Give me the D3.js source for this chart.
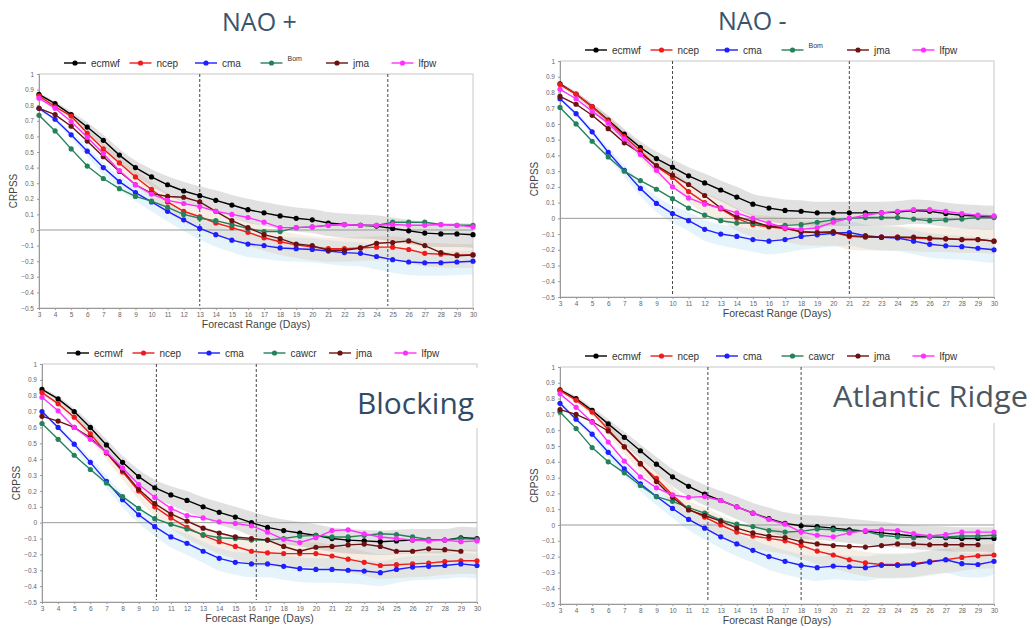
<!DOCTYPE html>
<meta charset="utf-8">
<style>
  body { margin: 0; background: #fff; }
  svg { display: block; }
  .tick text { fill: #666; font-family: "Liberation Sans", Arial, sans-serif; font-size: 6.5px; }
  .tick line { stroke: #999; }
  .domain { stroke: #999; }
  .legend text { font-family: "Liberation Sans", Arial, sans-serif; font-size: 10px; fill: #333; }
  .axis-title { font-family: "Liberation Sans", Arial, sans-serif; fill: #444; }
</style>
<svg width="1035" height="628"></svg>
<script src="https://cdn.jsdelivr.net/npm/d3@7"></script>
<script>

  // forecast days
  var days = d3.range(3, 31);
  var yTicks = [-0.5, -0.4, -0.3, -0.2, -0.1, 0, 0.1, 0.2, 0.3, 0.4, 0.5, 0.6, 0.7, 0.8, 0.9, 1];

  var models = ["ecmwf", "ncep", "cma", "bom", "jma", "lfpw"];
  var labelsTop = ["ecmwf", "ncep", "cma", "Bom", "jma", "lfpw"];
  var labelsBottom = ["ecmwf", "ncep", "cma", "cawcr", "jma", "lfpw"];
  var colors = ["#000000", "#ee1c1c", "#1e1eff", "#23825a", "#6a1212", "#ff30ff"];

  // spread of the shaded bands (grows with lead time)
  var bandSpread = [0.01, 0.015, 0.02, 0.03, 0.035, 0.04, 0.045, 0.05, 0.055, 0.06, 0.06, 0.065, 0.065, 0.07,
                    0.07, 0.07, 0.07, 0.07, 0.07, 0.07, 0.07, 0.07, 0.07, 0.07, 0.07, 0.07, 0.07, 0.07];

  // ---- NAO +
  var naoPlusEcmwf = [0.87, 0.81, 0.74, 0.66, 0.575, 0.48, 0.40, 0.34, 0.29, 0.25, 0.22, 0.19, 0.16, 0.13,
                      0.11, 0.09, 0.075, 0.065, 0.045, 0.035, 0.03, 0.025, 0.01, -0.005, -0.02, -0.025, -0.025, -0.03];
  var naoPlusNcep = [0.86, 0.79, 0.73, 0.62, 0.52, 0.43, 0.34, 0.26, 0.18, 0.12, 0.085, 0.045, 0.015, -0.015,
                     -0.05, -0.075, -0.095, -0.11, -0.12, -0.12, -0.115, -0.11, -0.11, -0.125, -0.15, -0.155, -0.16, -0.16];
  var naoPlusCma = [0.78, 0.71, 0.61, 0.505, 0.40, 0.31, 0.24, 0.18, 0.12, 0.065, 0.01, -0.03, -0.065, -0.09,
                    -0.10, -0.115, -0.12, -0.125, -0.135, -0.145, -0.15, -0.17, -0.19, -0.205, -0.21, -0.21, -0.205, -0.20];
  var naoPlusBom = [0.735, 0.635, 0.52, 0.41, 0.33, 0.265, 0.215, 0.185, 0.145, 0.10, 0.075, 0.06, 0.035, 0.01,
                    -0.01, -0.01, 0.015, 0.02, 0.03, 0.035, 0.03, 0.03, 0.05, 0.05, 0.05, 0.035, 0.03, 0.03];
  var naoPlusJma = [0.78, 0.74, 0.665, 0.57, 0.47, 0.375, 0.29, 0.235, 0.215, 0.21, 0.18, 0.12, 0.06, 0.015,
                    -0.03, -0.055, -0.09, -0.10, -0.13, -0.13, -0.115, -0.085, -0.08, -0.07, -0.10, -0.145, -0.165, -0.16];
  var naoPlusLfpw = [0.845, 0.78, 0.695, 0.595, 0.49, 0.38, 0.29, 0.23, 0.19, 0.17, 0.15, 0.12, 0.10, 0.08,
                     0.05, 0.015, 0.015, 0.02, 0.03, 0.035, 0.03, 0.03, 0.035, 0.03, 0.03, 0.035, 0.03, 0.02];

  // ---- NAO -
  var naoMinusEcmwf = [0.855, 0.79, 0.71, 0.625, 0.535, 0.45, 0.38, 0.325, 0.27, 0.225, 0.18, 0.135, 0.09, 0.065,
                       0.05, 0.045, 0.035, 0.035, 0.035, 0.035, 0.035, 0.04, 0.05, 0.045, 0.03, 0.02, 0.015, 0.01];
  var naoMinusNcep = [0.85, 0.79, 0.71, 0.62, 0.52, 0.43, 0.33, 0.26, 0.17, 0.10, 0.06, 0.0, -0.04, -0.055,
                      -0.065, -0.085, -0.09, -0.09, -0.115, -0.12, -0.12, -0.12, -0.125, -0.13, -0.13, -0.135, -0.135, -0.145];
  var naoMinusCma = [0.76, 0.665, 0.55, 0.42, 0.305, 0.19, 0.095, 0.03, -0.015, -0.07, -0.10, -0.115, -0.135, -0.145,
                     -0.135, -0.115, -0.105, -0.095, -0.09, -0.11, -0.12, -0.125, -0.145, -0.165, -0.175, -0.18, -0.19, -0.20];
  var naoMinusBom = [0.705, 0.60, 0.49, 0.39, 0.30, 0.24, 0.185, 0.125, 0.065, 0.02, -0.015, -0.03, -0.03, -0.05,
                     -0.045, -0.04, -0.025, -0.01, 0.0, 0.005, 0.005, 0.005, -0.005, -0.015, -0.01, -0.005, 0.005, 0.005];
  var naoMinusJma = [0.775, 0.725, 0.655, 0.57, 0.48, 0.415, 0.335, 0.275, 0.215, 0.145, 0.065, 0.01, -0.02, -0.05,
                     -0.06, -0.085, -0.09, -0.085, -0.11, -0.115, -0.12, -0.12, -0.12, -0.125, -0.13, -0.135, -0.135, -0.145];
  var naoMinusLfpw = [0.82, 0.76, 0.68, 0.605, 0.505, 0.405, 0.305, 0.20, 0.13, 0.09, 0.065, 0.035, 0.0, -0.03,
                      -0.06, -0.07, -0.06, -0.025, 0.0, 0.02, 0.035, 0.045, 0.055, 0.055, 0.045, 0.03, 0.02, 0.015];

  // ---- Blocking
  var blockEcmwf = [0.84, 0.78, 0.70, 0.60, 0.49, 0.38, 0.29, 0.22, 0.175, 0.14, 0.10, 0.065, 0.035, 0.0,
                    -0.03, -0.05, -0.065, -0.08, -0.10, -0.11, -0.115, -0.12, -0.115, -0.11, -0.11, -0.11, -0.095, -0.10];
  var blockNcep = [0.82, 0.75, 0.665, 0.56, 0.44, 0.32, 0.20, 0.10, 0.03, -0.03, -0.08, -0.12, -0.15, -0.18,
                   -0.19, -0.195, -0.195, -0.195, -0.21, -0.23, -0.25, -0.27, -0.265, -0.26, -0.255, -0.245, -0.24, -0.24];
  var blockCma = [0.70, 0.60, 0.495, 0.38, 0.26, 0.145, 0.05, -0.025, -0.09, -0.13, -0.18, -0.225, -0.25, -0.26,
                  -0.26, -0.275, -0.29, -0.295, -0.295, -0.30, -0.305, -0.315, -0.295, -0.28, -0.275, -0.27, -0.26, -0.27];
  var blockCawcr = [0.625, 0.525, 0.425, 0.335, 0.25, 0.165, 0.09, 0.025, -0.01, -0.04, -0.075, -0.095, -0.10, -0.11,
                    -0.11, -0.10, -0.085, -0.08, -0.09, -0.09, -0.08, -0.07, -0.075, -0.09, -0.105, -0.11, -0.10, -0.105];
  var blockJma = [0.67, 0.64, 0.60, 0.535, 0.44, 0.33, 0.21, 0.12, 0.055, 0.01, -0.035, -0.065, -0.09, -0.10,
                  -0.11, -0.15, -0.18, -0.155, -0.15, -0.14, -0.135, -0.15, -0.18, -0.18, -0.165, -0.17, -0.18, null];
  var blockLfpw = [0.79, 0.705, 0.60, 0.525, 0.445, 0.345, 0.24, 0.16, 0.09, 0.045, 0.03, 0.005, -0.005, -0.02,
                   -0.06, -0.105, -0.125, -0.095, -0.05, -0.045, -0.07, -0.09, -0.10, -0.11, -0.115, -0.11, -0.12, -0.115];

  // ---- Atlantic Ridge
  var ridgeEcmwf = [0.855, 0.80, 0.725, 0.64, 0.555, 0.47, 0.385, 0.305, 0.245, 0.195, 0.155, 0.115, 0.075, 0.04,
                    0.01, -0.005, -0.01, -0.02, -0.03, -0.04, -0.05, -0.06, -0.07, -0.075, -0.08, -0.085, -0.085, -0.085];
  var ridgeNcep = [0.85, 0.79, 0.715, 0.605, 0.495, 0.385, 0.295, 0.19, 0.10, 0.05, 0.0, -0.045, -0.07, -0.085,
                   -0.10, -0.13, -0.165, -0.19, -0.22, -0.24, -0.25, -0.25, -0.245, -0.23, -0.22, -0.205, -0.195, -0.19];
  var ridgeCma = [0.77, 0.67, 0.575, 0.46, 0.355, 0.26, 0.18, 0.105, 0.035, -0.02, -0.075, -0.12, -0.16, -0.20,
                  -0.23, -0.255, -0.27, -0.26, -0.265, -0.27, -0.255, -0.255, -0.25, -0.235, -0.22, -0.245, -0.25, -0.23];
  var ridgeCawcr = [0.715, 0.61, 0.49, 0.40, 0.33, 0.25, 0.18, 0.15, 0.11, 0.075, 0.03, 0.005, -0.01, -0.035,
                    -0.045, -0.04, -0.025, -0.03, -0.04, -0.04, -0.065, -0.075, -0.08, -0.075, -0.075, -0.07, -0.07, -0.065];
  var ridgeJma = [0.73, 0.70, 0.655, 0.595, 0.495, 0.39, 0.275, 0.175, 0.095, 0.06, 0.025, -0.02, -0.05, -0.07,
                  -0.08, -0.105, -0.12, -0.13, -0.135, -0.14, -0.13, -0.12, -0.12, -0.125, -0.125, -0.125, -0.125, null];
  var ridgeLfpw = [0.83, 0.745, 0.65, 0.525, 0.405, 0.305, 0.235, 0.19, 0.175, 0.18, 0.155, 0.115, 0.075, 0.035,
                   0.005, -0.045, -0.065, -0.075, -0.05, -0.035, -0.03, -0.035, -0.055, -0.07, -0.06, -0.045, -0.045, -0.045];

  // dashed marker days per panel
  var naoPlusMarks = [13, 24.7];
  var naoMinusMarks = [10, 21];
  var blockMarks = [10.1, 16.3];
  var ridgeMarks = [12.2, 18];

  var panels = [
    { box: [39, 473, 74, 308], labels: labelsTop, marks: naoPlusMarks,
      series: [naoPlusEcmwf, naoPlusNcep, naoPlusCma, naoPlusBom, naoPlusJma, naoPlusLfpw],
      title: "NAO +", tx: 222, ty: 31, tsize: 25, tcolor: "#3b536c" },
    { box: [560, 994, 61, 297], labels: labelsTop, marks: naoMinusMarks,
      series: [naoMinusEcmwf, naoMinusNcep, naoMinusCma, naoMinusBom, naoMinusJma, naoMinusLfpw],
      title: "NAO -", tx: 718, ty: 30, tsize: 25, tcolor: "#3b536c" },
    { box: [42, 477, 364, 602], labels: labelsBottom, marks: blockMarks,
      series: [blockEcmwf, blockNcep, blockCma, blockCawcr, blockJma, blockLfpw],
      title: "Blocking", tx: 357, ty: 414, tsize: 30, tcolor: "#2f4b68", tlen: 117, white: [352, 368, 130, 60] },
    { box: [560, 994, 367, 604], labels: labelsBottom, marks: ridgeMarks,
      series: [ridgeEcmwf, ridgeNcep, ridgeCma, ridgeCawcr, ridgeJma, ridgeLfpw],
      title: "Atlantic Ridge", tx: 833, ty: 407, tsize: 29, tcolor: "#4c5660", tlen: 195, white: [828, 370, 207, 53] }
  ];

  var svg = d3.select("svg");

  panels.forEach(function (p) {
    var x = d3.scaleLinear().domain([3, 30]).range([p.box[0], p.box[1]]);
    var y = d3.scaleLinear().domain([-0.5, 1]).range([p.box[3], p.box[2]]);
    var g = svg.append("g");

    // shaded spread bands: gray around ecmwf, beige around ncep, blue around cma
    var bands = [[2, "rgba(160,215,240,0.28)"], [1, "rgba(215,175,130,0.22)"], [0, "rgba(130,130,130,0.24)"]];
    bands.forEach(function (b) {
      var s = p.series[b[0]];
      var area = d3.area()
            .curve(d3.curveMonotoneX)
            .x(function (d, i) { return x(days[i]); })
            .y0(function (d, i) { return y(d - bandSpread[i] * 1.2); })
            .y1(function (d, i) { return y(d + bandSpread[i]); });
      g.append("path").datum(s).attr("d", area).attr("fill", b[1]);
    });

    // frame
    g.append("rect")
          .attr("x", p.box[0]).attr("y", p.box[2])
          .attr("width", p.box[1] - p.box[0]).attr("height", p.box[3] - p.box[2])
          .attr("fill", "none").attr("stroke", "#c8c8c8");

    // zero line
    g.append("line")
          .attr("x1", p.box[0]).attr("x2", p.box[1])
          .attr("y1", y(0)).attr("y2", y(0))
          .attr("stroke", "#999").attr("stroke-width", 1);

    // axes
    g.append("g")
          .attr("transform", "translate(0," + p.box[3] + ")")
          .call(d3.axisBottom(x).tickValues(days).tickSize(2).tickPadding(2).tickFormat(d3.format("d")));
    g.append("g")
          .attr("transform", "translate(" + p.box[0] + ",0)")
          .call(d3.axisLeft(y).tickValues(yTicks).tickSize(2).tickPadding(3)
                .tickFormat(function (d) { return d3.format("~g")(+d.toFixed(1)); }));

    // dashed vertical lines
    g.selectAll(".mark").data(p.marks).enter().append("line")
          .attr("x1", function (d) { return x(d); }).attr("x2", function (d) { return x(d); })
          .attr("y1", p.box[2]).attr("y2", p.box[3] - 2)
          .attr("stroke", "#333").attr("stroke-width", 0.9).attr("stroke-dasharray", "3,2");

    // series lines and markers
    var line = d3.line()
          .defined(function (d) { return d != null; })
          .x(function (d, i) { return x(days[i]); })
          .y(function (d) { return y(d); });

    p.series.forEach(function (s, k) {
      g.append("path").datum(s)
            .attr("d", line).attr("fill", "none")
            .attr("stroke", colors[k]).attr("stroke-width", 1.4);
      g.selectAll(".pt" + k).data(s.map(function (v, i) { return { v: v, d: days[i] }; })
                .filter(function (o) { return o.v != null; }))
            .enter().append("circle")
            .attr("cx", function (o) { return x(o.d); })
            .attr("cy", function (o) { return y(o.v); })
            .attr("r", 2.6)
            .attr("fill", colors[k]);
    });

    // legend
    var lg = g.append("g").attr("class", "legend")
          .attr("transform", "translate(" + (p.box[0] + 25) + "," + (p.box[2] - 11) + ")");
    var item = lg.selectAll("g").data(models).enter().append("g")
          .attr("transform", function (d, i) { return "translate(" + (i * 65.5) + ",0)"; });
    item.append("line").attr("x1", 0).attr("x2", 22).attr("y1", 0).attr("y2", 0)
          .attr("stroke", function (d, i) { return colors[i]; }).attr("stroke-width", 1.4);
    item.append("circle").attr("cx", 11).attr("cy", 0).attr("r", 2.6)
          .attr("fill", function (d, i) { return colors[i]; });
    item.append("text")
          .attr("x", 27)
          .attr("y", function (d, i) { return p.labels[i] === "Bom" ? -2 : 3.5; })
          .style("font-size", function (d, i) { return p.labels[i] === "Bom" ? "7px" : "10px"; })
          .text(function (d, i) { return p.labels[i]; });

    // axis titles
    g.append("text").attr("class", "axis-title")
          .attr("transform", "translate(" + (p.box[0] - 22) + "," + ((p.box[2] + p.box[3]) / 2) + ") rotate(-90)")
          .attr("text-anchor", "middle").style("font-size", "10px")
          .text("CRPSS");
    g.append("text").attr("class", "axis-title")
          .attr("x", (p.box[0] + p.box[1]) / 2).attr("y", p.box[3] + 20)
          .attr("text-anchor", "middle").style("font-size", "10.5px")
          .text("Forecast Range (Days)");

    // panel title
    if (p.white) {
      svg.append("rect").attr("x", p.white[0]).attr("y", p.white[1])
            .attr("width", p.white[2]).attr("height", p.white[3]).attr("fill", "#fff");
    }
    var t = svg.append("text")
          .attr("x", p.tx).attr("y", p.ty)
          .style("font-family", "'Open Sans', 'Noto Sans', sans-serif")
          .style("font-size", p.tsize + "px")
          .attr("fill", p.tcolor)
          .text(p.title);
    if (p.tlen) t.attr("textLength", p.tlen).attr("lengthAdjust", "spacingAndGlyphs");
  });

</script>
